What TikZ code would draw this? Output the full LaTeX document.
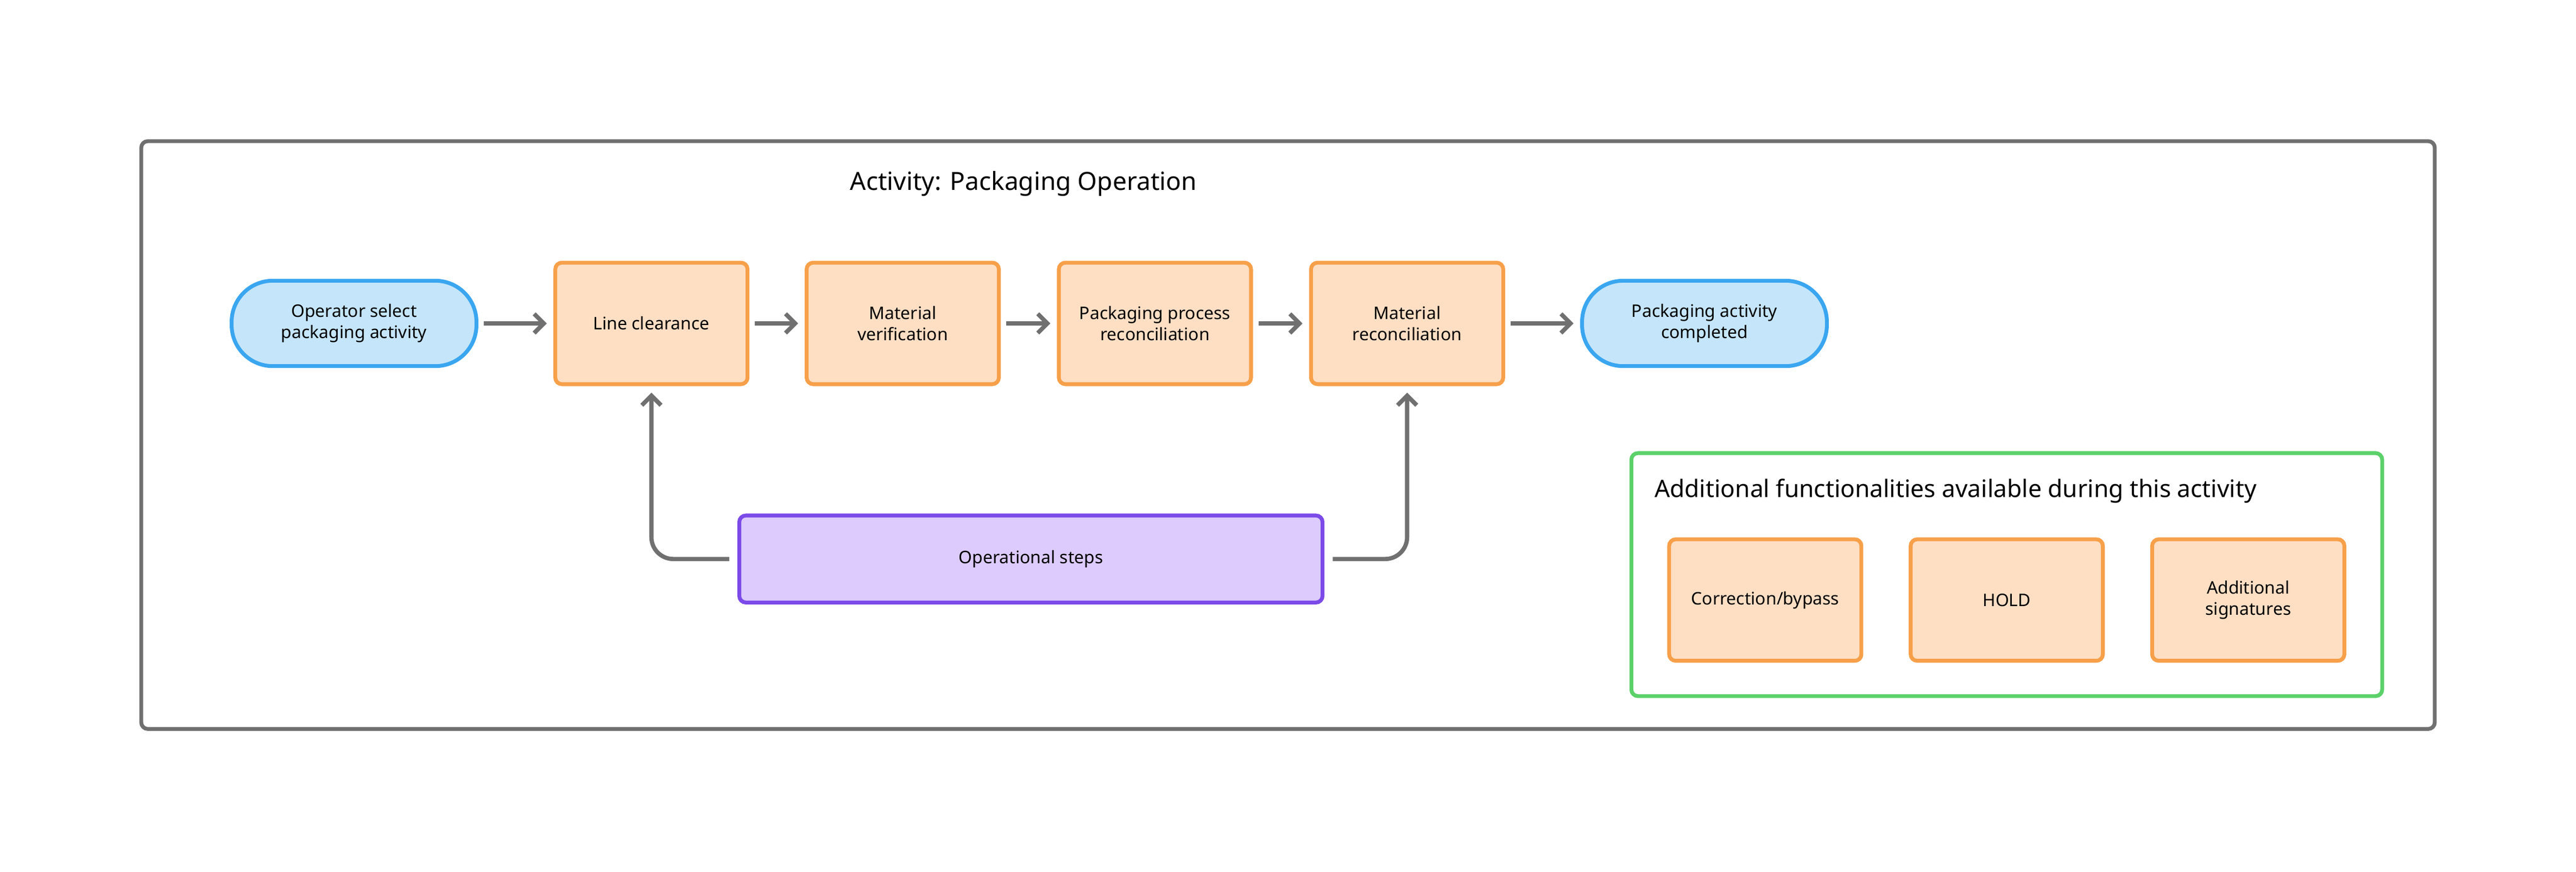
\documentclass[tikz,border=0pt]{standalone}
\usepackage{fontspec}
\setmainfont{Noto Sans}
\usetikzlibrary{arrows.meta}
\definecolor{bluef}{HTML}{C5E5FB}\definecolor{blued}{HTML}{3AA6F0}
\definecolor{orf}{HTML}{FFDFC4}\definecolor{ord}{HTML}{F7A04A}
\definecolor{puf}{HTML}{DCCBFC}\definecolor{pud}{HTML}{7B4AE8}
\definecolor{grd}{HTML}{5CD16A}\definecolor{gry}{HTML}{707070}
\begin{document}
\begin{tikzpicture}[x=0.03cm,y=-0.03cm,
 base/.style={draw,line width=2pt,align=center,font=\fontsize{9}{11}\selectfont,inner sep=2pt},
 pill/.style={base,fill=bluef,draw=blued,rounded corners=0.75cm,minimum width=4.47cm,minimum height=1.56cm},
 obox/.style={base,fill=orf,draw=ord,rounded corners=0.12cm,minimum width=3.51cm,minimum height=2.22cm},
 arr/.style={draw=gry,line width=2.2pt,-{Straight Barb[length=5pt,width=10pt]},rounded corners=0.4cm}]
\useasboundingbox (0,0) rectangle (1568,531);
\node[draw=gry,line width=2pt,rounded corners=0.12cm,minimum width=41.88cm,minimum height=10.74cm] (frame) at (784,265) {};
\node[font=\fontsize{13}{15}\selectfont] (title) at (623,112) {Activity: Packaging Operation};
\node[pill] (op) at (215.5,197) {Operator select\\packaging activity};
\node[obox] (lc) at (396.5,197) {Line clearance};
\node[obox] (mv) at (549.5,197) {Material\\verification};
\node[obox] (pp) at (703,197) {Packaging process\\reconciliation};
\node[obox] (mr) at (856.5,197) {Material\\reconciliation};
\node[pill] (pa) at (1037.5,197) {Packaging activity\\completed};
\node[base,fill=puf,draw=pud,rounded corners=0.12cm,minimum width=10.65cm,minimum height=1.59cm] (os) at (627.5,340.5) {Operational steps};
\draw[arr] ([xshift=0.1cm]op.east) -- ([xshift=-0.12cm]lc.west);
\draw[arr] ([xshift=0.1cm]lc.east) -- ([xshift=-0.12cm]mv.west);
\draw[arr] ([xshift=0.1cm]mv.east) -- ([xshift=-0.12cm]pp.west);
\draw[arr] ([xshift=0.1cm]pp.east) -- ([xshift=-0.12cm]mr.west);
\draw[arr] ([xshift=0.1cm]mr.east) -- ([xshift=-0.12cm]pa.west);
\draw[arr] ([xshift=-0.15cm]os.west) -| ([yshift=-0.12cm]lc.south);
\draw[arr] ([xshift=0.15cm]os.east) -| ([yshift=-0.12cm]mr.south);
\node[draw=grd,line width=2pt,rounded corners=0.12cm,minimum width=13.71cm,minimum height=4.44cm] (green) at (1221.5,350) {};
\node[anchor=west,font=\fontsize{12.5}{14}\selectfont] (gt) at (1003,299) {Additional functionalities available during this activity};
\node[obox] (cb) at (1074.5,365.5) {Correction/bypass};
\node[obox] (hold) at (1221.5,365.5) {HOLD};
\node[obox] (as) at (1368.5,365.5) {Additional\\signatures};
\end{tikzpicture}
\end{document}
